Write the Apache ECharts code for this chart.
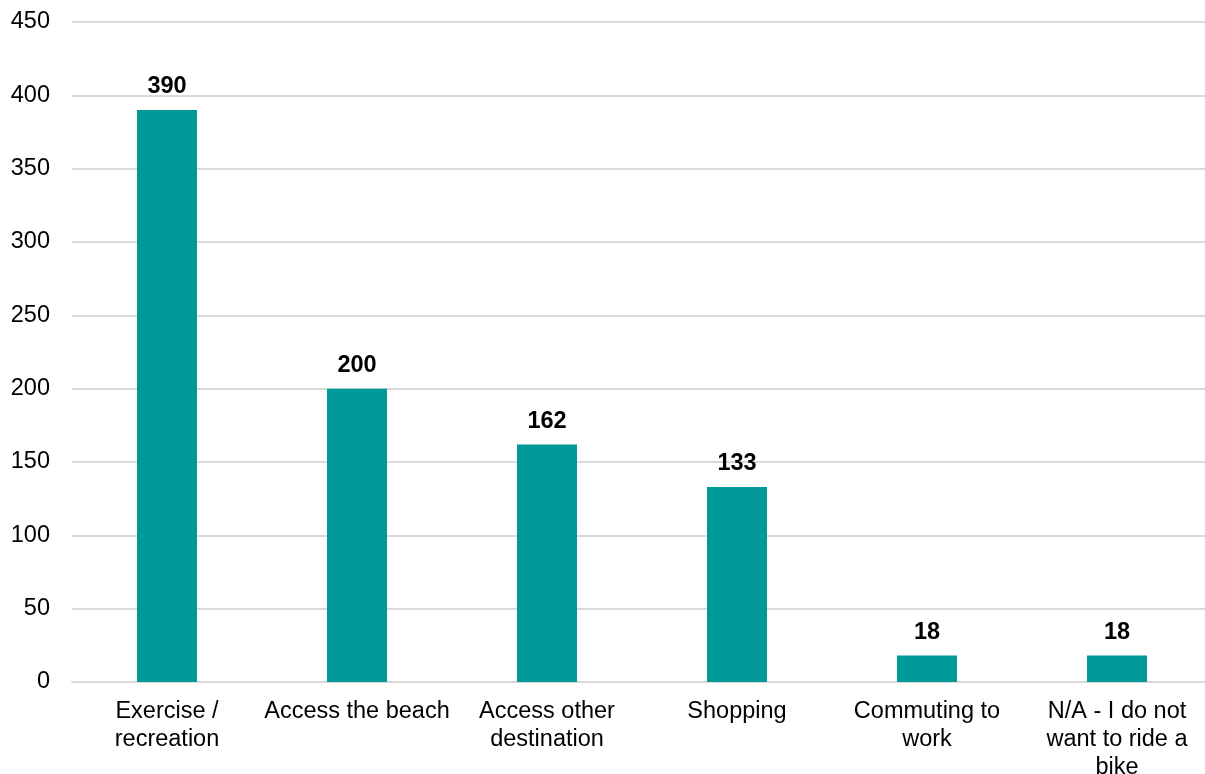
<!DOCTYPE html>
<html>
<head>
<meta charset="utf-8">
<script src="https://cdn.jsdelivr.net/npm/echarts@6/dist/echarts.min.js"></script>
<style>html,body{margin:0;padding:0;background:#fff}#c{width:1205px;height:774px}</style>
</head>
<body>
<div id="c"></div>
<script>
const categories = ["Exercise /\nrecreation", "Access the beach", "Access other\ndestination", "Shopping", "Commuting to\nwork", "N/A - I do not\nwant to ride a\nbike"];
const values = [390, 200, 162, 133, 18, 18];
const yMin = 0, yMax = 450, yStep = 50;

const chart = echarts.init(document.getElementById('c'));
chart.setOption({
  animation: false,
  backgroundColor: '#fff',
  grid: { left: 72, width: 1140, top: 22, height: 660, containLabel: false, outerBoundsMode: 'none' },
  xAxis: {
    type: 'category',
    data: categories,
    axisLine: { show: true, lineStyle: { color: '#d9d9d9', width: 2 } },
    axisTick: { show: false },
    axisLabel: { color: '#000', fontFamily: 'Liberation Sans, Arial', fontSize: 23.5, lineHeight: 28, margin: 16, interval: 0 }
  },
  yAxis: {
    type: 'value', min: yMin, max: yMax, interval: yStep,
    axisLine: { show: false }, axisTick: { show: false },
    splitLine: { lineStyle: { color: '#d9d9d9', width: 2 } },
    axisLabel: { color: '#000', fontFamily: 'Liberation Sans, Arial', fontSize: 23.5, margin: 22 }
  },
  series: [{
    type: 'bar',
    data: values,
    barWidth: 60,
    itemStyle: { color: '#009999' },
    label: { show: true, position: 'top', distance: 11, color: '#000', fontWeight: 'bold', fontFamily: 'Liberation Sans, Arial', fontSize: 23.5 }
  }]
});
</script>
</body>
</html>
